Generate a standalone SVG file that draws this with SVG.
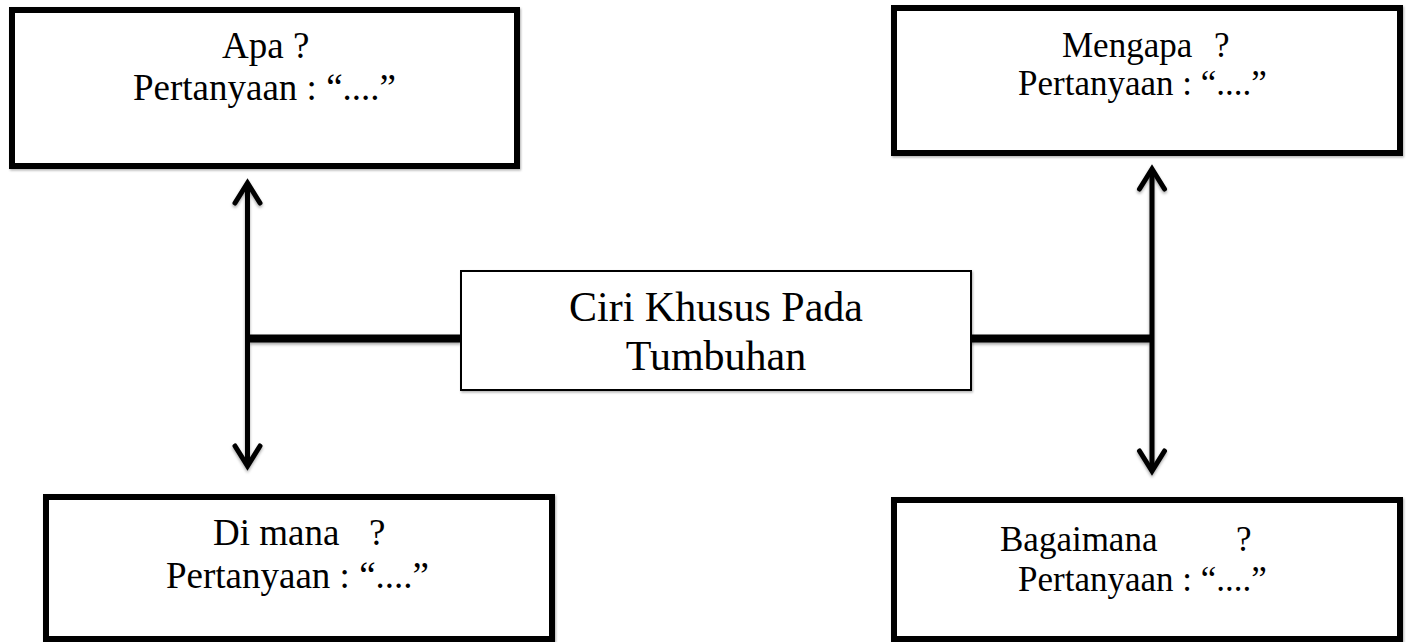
<svg xmlns="http://www.w3.org/2000/svg" width="1410" height="642" viewBox="0 0 1410 642">
  <defs>
    <style>
      .box { fill: #ffffff; stroke: #000000; stroke-width: 6; }
      .cbox { fill: #ffffff; stroke: #000000; stroke-width: 2; }
      .t { font-family: "Liberation Serif", "Times New Roman", serif; fill: #000000; }
      .l { font-size: 37px; }
      .r { font-size: 35px; }
      .c { font-size: 42px; }
      .conn { stroke: #000000; fill: none; stroke-linecap: butt; }
      .v { stroke-width: 5; }
      .h { stroke-width: 8; }
      .head { stroke: #000000; stroke-width: 5; fill: none; stroke-linecap: round; stroke-linejoin: miter; }
    </style>
    <filter id="sh" x="-20%" y="-20%" width="140%" height="140%">
      <feDropShadow dx="0" dy="2" stdDeviation="1.5" flood-color="#000000" flood-opacity="0.35"/>
    </filter>
    <filter id="bsh" x="-5%" y="-5%" width="110%" height="110%">
      <feDropShadow dx="1" dy="1.5" stdDeviation="0.8" flood-color="#000000" flood-opacity="0.3"/>
    </filter>
  </defs>

  <g id="connectors" filter="url(#sh)">
    <line class="conn h" x1="247.5" y1="338.5" x2="461" y2="338.5"/>
    <line class="conn h" x1="971" y1="338.5" x2="1152" y2="338.5"/>
    <line class="conn v" x1="247.5" y1="184" x2="247.5" y2="465"/>
    <line class="conn v" x1="1152" y1="170" x2="1152" y2="470"/>
    <polyline class="head" points="235,203 247.5,183 260,203"/>
    <polyline class="head" points="235,446 247.5,466 260,446"/>
    <polyline class="head" points="1139.5,189 1152,169 1164.5,189"/>
    <polyline class="head" points="1139.5,451 1152,471 1164.5,451"/>
  </g>

  <g id="node-apa">
    <rect class="box" x="12" y="10" width="505" height="156" filter="url(#bsh)"/>
    <text class="t l" x="222" y="58">Apa ?</text>
    <text class="t l" x="133" y="100">Pertanyaan : “....”</text>
  </g>

  <g id="node-mengapa">
    <rect class="box" x="894" y="8" width="506" height="145" filter="url(#bsh)"/>
    <text class="t r" y="57"><tspan x="1062">Mengapa</tspan><tspan x="1214">?</tspan></text>
    <text class="t r" x="1018" y="95">Pertanyaan : “....”</text>
  </g>

  <g id="node-center">
    <rect class="cbox" x="461" y="271" width="510" height="119" filter="url(#bsh)"/>
    <text class="t c" x="716" y="321" text-anchor="middle">Ciri Khusus Pada</text>
    <text class="t c" x="716" y="370" text-anchor="middle">Tumbuhan</text>
  </g>

  <g id="node-dimana">
    <rect class="box" x="46" y="497" width="506" height="142" filter="url(#bsh)"/>
    <text class="t l" y="545"><tspan x="213">Di mana</tspan><tspan x="369">?</tspan></text>
    <text class="t l" x="166" y="588">Pertanyaan : “....”</text>
  </g>

  <g id="node-bagaimana">
    <rect class="box" x="894" y="500" width="506" height="139" filter="url(#bsh)"/>
    <text class="t r" y="551"><tspan x="1000">Bagaimana</tspan><tspan x="1236">?</tspan></text>
    <text class="t r" x="1018" y="591">Pertanyaan : “....”</text>
  </g>
</svg>
